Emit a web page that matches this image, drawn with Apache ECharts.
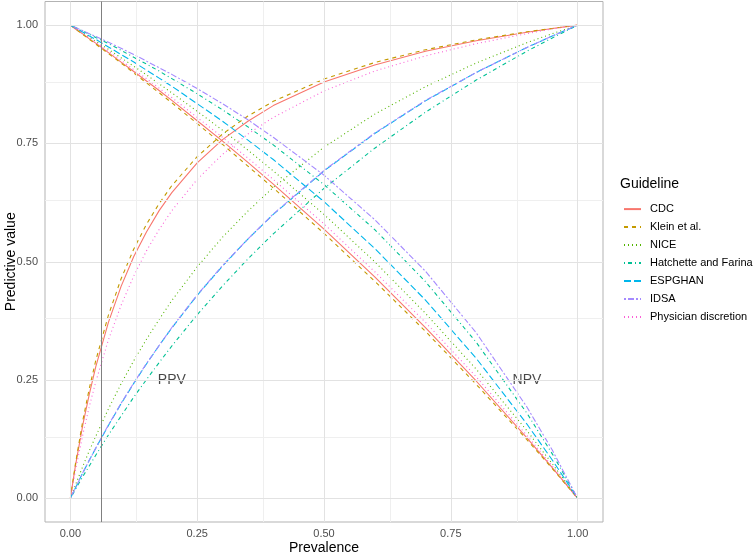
<!DOCTYPE html>
<html>
<head>
<meta charset="utf-8">
<script src="https://cdn.jsdelivr.net/npm/echarts@6/dist/echarts.min.js"></script>
<style>
html,body{margin:0;padding:0;background:#fff;}
#chart{width:754px;height:555px;}
</style>
</head>
<body>
<div id="chart"></div>
<script>
// ---- data ----
const prevalence = [0, 0.01, 0.025, 0.0375, 0.05, 0.075, 0.1, 0.125, 0.15, 0.175, 0.2, 0.25, 0.3, 0.35, 0.4, 0.5, 0.6, 0.7, 0.8, 0.9, 0.95, 1];

const guidelines = ['CDC', 'Klein et al.', 'NICE', 'Hatchette and Farina', 'ESPGHAN', 'IDSA', 'Physician discretion'];

const ppvCDC       = [0, 0.069, 0.158, 0.221, 0.278, 0.372, 0.448, 0.511, 0.563, 0.608, 0.646, 0.709, 0.758, 0.797, 0.830, 0.880, 0.916, 0.945, 0.967, 0.985, 0.993, 1];
const ppvKlein     = [0, 0.073, 0.167, 0.233, 0.291, 0.387, 0.464, 0.527, 0.579, 0.623, 0.661, 0.722, 0.770, 0.808, 0.839, 0.886, 0.921, 0.948, 0.969, 0.986, 0.993, 1];
const ppvNICE      = [0, 0.028, 0.069, 0.101, 0.131, 0.189, 0.242, 0.291, 0.336, 0.378, 0.418, 0.489, 0.552, 0.607, 0.657, 0.742, 0.812, 0.870, 0.920, 0.963, 0.982, 1];
const ppvHatchette = [0, 0.019, 0.047, 0.069, 0.091, 0.134, 0.174, 0.214, 0.251, 0.287, 0.322, 0.388, 0.449, 0.506, 0.559, 0.655, 0.740, 0.816, 0.884, 0.945, 0.973, 1];
const ppvESPGHAN   = [0, 0.022, 0.055, 0.081, 0.106, 0.154, 0.200, 0.243, 0.284, 0.323, 0.360, 0.429, 0.491, 0.548, 0.600, 0.692, 0.771, 0.840, 0.900, 0.953, 0.977, 1];
const ppvIDSA      = [0, 0.022, 0.055, 0.081, 0.106, 0.155, 0.201, 0.244, 0.285, 0.323, 0.361, 0.430, 0.492, 0.548, 0.601, 0.693, 0.772, 0.841, 0.900, 0.953, 0.977, 1];
const ppvPhysician = [0, 0.059, 0.137, 0.195, 0.246, 0.335, 0.408, 0.470, 0.523, 0.568, 0.608, 0.674, 0.727, 0.770, 0.805, 0.861, 0.903, 0.935, 0.961, 0.982, 0.992, 1];

const npvCDC       = [1, 0.992, 0.981, 0.971, 0.962, 0.942, 0.922, 0.902, 0.882, 0.862, 0.841, 0.798, 0.755, 0.710, 0.664, 0.569, 0.468, 0.361, 0.248, 0.128, 0.065, 0];
const npvKlein     = [1, 0.992, 0.980, 0.970, 0.960, 0.940, 0.920, 0.899, 0.878, 0.857, 0.836, 0.792, 0.748, 0.702, 0.656, 0.560, 0.459, 0.353, 0.241, 0.124, 0.063, 0];
const npvNICE      = [1, 0.993, 0.983, 0.975, 0.966, 0.949, 0.931, 0.913, 0.895, 0.876, 0.857, 0.818, 0.778, 0.736, 0.692, 0.600, 0.500, 0.391, 0.273, 0.143, 0.073, 0];
const npvHatchette = [1, 0.995, 0.987, 0.981, 0.974, 0.961, 0.947, 0.932, 0.918, 0.903, 0.887, 0.855, 0.821, 0.785, 0.747, 0.663, 0.568, 0.458, 0.330, 0.180, 0.094, 0];
const npvESPGHAN   = [1, 0.994, 0.985, 0.977, 0.970, 0.954, 0.938, 0.922, 0.905, 0.888, 0.871, 0.834, 0.797, 0.757, 0.716, 0.627, 0.528, 0.419, 0.296, 0.157, 0.081, 0];
const npvIDSA      = [1, 0.995, 0.988, 0.982, 0.976, 0.964, 0.951, 0.938, 0.924, 0.910, 0.896, 0.866, 0.834, 0.800, 0.763, 0.683, 0.589, 0.480, 0.350, 0.193, 0.102, 0];
const npvPhysician = [1, 0.993, 0.982, 0.973, 0.963, 0.945, 0.926, 0.906, 0.887, 0.867, 0.847, 0.805, 0.763, 0.719, 0.674, 0.580, 0.479, 0.372, 0.257, 0.133, 0.068, 0];

const tickValues = [0, 0.25, 0.5, 0.75, 1];
const majorGrid = [0, 0.25, 0.5, 0.75, 1];
const minorGrid = [0.125, 0.375, 0.625, 0.875];
const referencePrevalence = 0.059;
const annotations = [
  { x: 0.2, y: 0.25, text: 'PPV' },
  { x: 0.9, y: 0.25, text: 'NPV' }
];

// ---- styles ----
const colors = ['#F8766D', '#C49A00', '#53B400', '#00C094', '#00B6EB', '#A58AFF', '#FB61D7'];
const dashes = ['solid', [4, 4], [1, 3], [1, 3, 4, 3], [7, 3], [2, 2, 6, 2], [1, 3]];
const FONT = '"Liberation Sans", Arial, Helvetica, sans-serif';

const ppvSets = [ppvCDC, ppvKlein, ppvNICE, ppvHatchette, ppvESPGHAN, ppvIDSA, ppvPhysician];
const npvSets = [npvCDC, npvKlein, npvNICE, npvHatchette, npvESPGHAN, npvIDSA, npvPhysician];

function pairs(ys) { return prevalence.map((x, i) => [x, ys[i]]); }

const series = [];
// gridlines + reference line (drawn underneath)
series.push({
  type: 'line', name: '_grid', data: [], silent: true, z: 1,
  markLine: {
    silent: true, symbol: ['none', 'none'], label: { show: false }, animation: false,
    emphasis: { disabled: true },
    data: [].concat(
      minorGrid.map(v => ({ xAxis: v, lineStyle: { color: '#efefef', width: 1, type: 'solid' } })),
      minorGrid.map(v => ({ yAxis: v, lineStyle: { color: '#efefef', width: 1, type: 'solid' } })),
      majorGrid.map(v => ({ xAxis: v, lineStyle: { color: '#e2e2e2', width: 1, type: 'solid' } })),
      majorGrid.map(v => ({ yAxis: v, lineStyle: { color: '#e2e2e2', width: 1, type: 'solid' } })),
      [{ xAxis: referencePrevalence, lineStyle: { color: '#808080', width: 1, type: 'solid' } }]
    )
  }
});

guidelines.forEach((g, i) => {
  [ppvSets[i], npvSets[i]].forEach(ys => {
    series.push({
      type: 'line', name: g, data: pairs(ys), z: 3,
      symbol: 'none', showSymbol: false, smooth: false,
      color: colors[i],
      lineStyle: { color: colors[i], width: 1.1, type: dashes[i] },
      emphasis: { disabled: true }, animation: false
    });
  });
});

series.push({
  type: 'scatter', name: '_labels', z: 4, silent: true,
  symbolSize: 0,
  data: annotations.map(a => ({ value: [a.x, a.y], label: { formatter: a.text } })),
  label: { show: true, position: 'inside', color: '#1a1a1a', fontSize: 14, fontFamily: FONT }
});

const chart = echarts.init(document.getElementById('chart'), null, { renderer: 'canvas' });
chart.setOption({
  animation: false,
  backgroundColor: '#ffffff',
  grid: { left: 45, right: 151, top: 1.5, bottom: 33, outerBoundsMode: 'none', containLabel: false,
          show: true, borderColor: '#b3b3b3', borderWidth: 1, backgroundColor: 'transparent' },
  xAxis: {
    type: 'value', min: -0.05, max: 1.05,
    name: 'Prevalence', nameLocation: 'middle', nameGap: 19.5, nameMoveOverlap: false,
    nameTextStyle: { color: '#000', fontSize: 14, fontFamily: FONT },
    axisLine: { show: false },
    axisTick: { show: true, length: 3, customValues: tickValues, lineStyle: { color: '#b3b3b3' } },
    axisLabel: { customValues: tickValues, margin: 6, color: '#4d4d4d', fontSize: 11, fontFamily: FONT, formatter: v => v.toFixed(2) },
    splitLine: { show: false }
  },
  yAxis: {
    type: 'value', min: -0.05, max: 1.05,
    name: 'Predictive value', nameLocation: 'middle', nameGap: 27, nameMoveOverlap: false,
    nameTextStyle: { color: '#000', fontSize: 14, fontFamily: FONT },
    axisLine: { show: false },
    axisTick: { show: true, length: 3, customValues: tickValues, lineStyle: { color: '#b3b3b3' } },
    axisLabel: { customValues: tickValues, margin: 7, color: '#4d4d4d', fontSize: 11, fontFamily: FONT, formatter: v => v.toFixed(2) },
    splitLine: { show: false }
  },
  legend: {
    data: guidelines, orient: 'vertical', left: 623, top: 203.5, padding: 0,
    itemWidth: 17, itemHeight: 14, itemGap: 6.8,
    itemStyle: { opacity: 0, color: 'rgba(0,0,0,0)', borderWidth: 0 },
    textStyle: { fontSize: 11, color: '#000', fontFamily: FONT, padding: [0, 0, 0, 4] },
    selectedMode: false
  },
  graphic: [{
    type: 'text', left: 620, top: 177,
    style: { text: 'Guideline', fontSize: 14, fill: '#000', font: '14px ' + FONT }
  }],
  series: series
});
</script>
</body>
</html>
